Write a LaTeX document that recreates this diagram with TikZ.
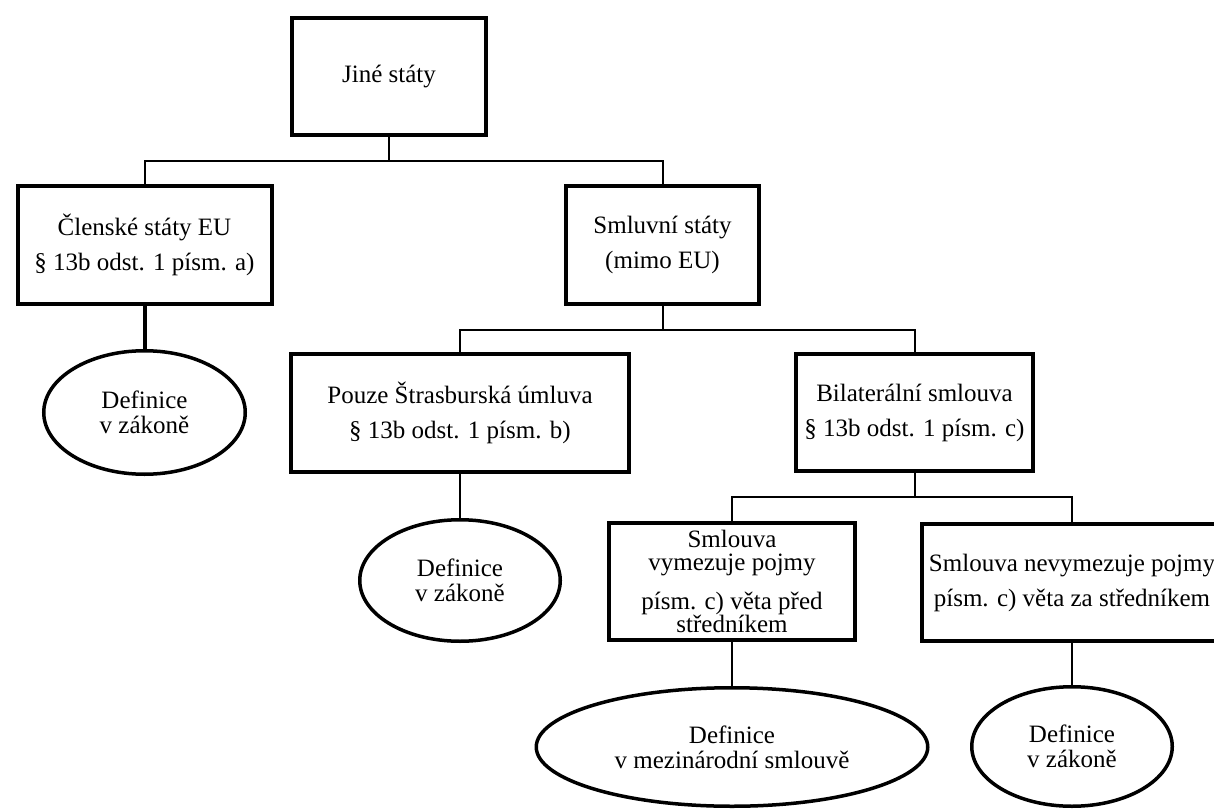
\documentclass[tikz,border=0pt]{standalone}
\usepackage{fontspec}
\setmainfont{Liberation Serif}
\usetikzlibrary{shapes.geometric}
\begin{document}
\begin{tikzpicture}[x=1pt,y=-1pt,
  box/.style={draw, line width=4pt, rectangle, inner sep=0pt, align=center, font=\fontsize{25}{35}\selectfont},
  oval/.style={draw, line width=3.5pt, ellipse, inner sep=0pt, align=center, font=\fontsize{25}{25}\selectfont},
  conn/.style={line width=2pt},
  thickconn/.style={line width=4pt}]
\useasboundingbox (0,0) rectangle (1214,810);
\fill[white] (0,0) rectangle (1214,810);
\clip (0,0) rectangle (1214,810);

\node[box, minimum width=194pt, minimum height=117pt] (jine) at (389,76.5) {Jiné státy};
\node[box, minimum width=254pt, minimum height=118pt] (clen) at (144.5,245) {Členské státy EU\\§ 13b odst. 1 písm. a)};
\node[box, minimum width=193pt, minimum height=118pt] (smluv) at (662.5,245) {Smluvní státy\\(mimo EU)};
\node[box, minimum width=338pt, minimum height=118pt] (pouze) at (460,413) {Pouze Štrasburská úmluva\\§ 13b odst. 1 písm. b)};
\node[box, minimum width=237pt, minimum height=117pt] (bilat) at (914.5,412.5) {Bilaterální smlouva\\§ 13b odst. 1 písm. c)};
\node[box, minimum width=246pt, minimum height=117pt, font=\fontsize{25}{23.5}\selectfont] (smlA) at (732,581.5) {Smlouva\\vymezuje pojmy\\[15pt]písm. c) věta před\\středníkem};
\node[box, minimum width=300pt, minimum height=117pt] (smlB) at (1072,582.5) {Smlouva nevymezuje pojmy\\písm. c) věta za středníkem};

\node[oval, minimum width=201.5pt, minimum height=123.5pt] (e1) at (144.5,412.5) {Definice\\v zákoně};
\node[oval, minimum width=200.5pt, minimum height=121.5pt] (e2) at (460,580.5) {Definice\\v zákoně};
\node[oval, minimum width=391.5pt, minimum height=118.5pt] (e3) at (732,747) {Definice\\v mezinárodní smlouvě};
\node[oval, minimum width=200.5pt, minimum height=119.5pt] (e4) at (1072,746.5) {Definice\\v zákoně};

\coordinate (b1) at (0,161);
\coordinate (b2) at (0,330);
\coordinate (b3) at (0,497);

\draw[conn] (jine.south) -- (jine.south |- b1);
\draw[conn] (clen.north) -- (clen.north |- b1) -| (smluv.north);
\draw[thickconn] (clen.south) -- (e1.north);
\draw[conn] (smluv.south) -- (smluv.south |- b2);
\draw[conn] (pouze.north) -- (pouze.north |- b2) -| (bilat.north);
\draw[conn] (pouze.south) -- (e2.north);
\draw[conn] (bilat.south) -- (bilat.south |- b3);
\draw[conn] (smlA.north) -- (smlA.north |- b3) -| (smlB.north);
\draw[conn] (smlA.south) -- (e3.north);
\draw[conn] (smlB.south) -- (e4.north);
\end{tikzpicture}
\end{document}
